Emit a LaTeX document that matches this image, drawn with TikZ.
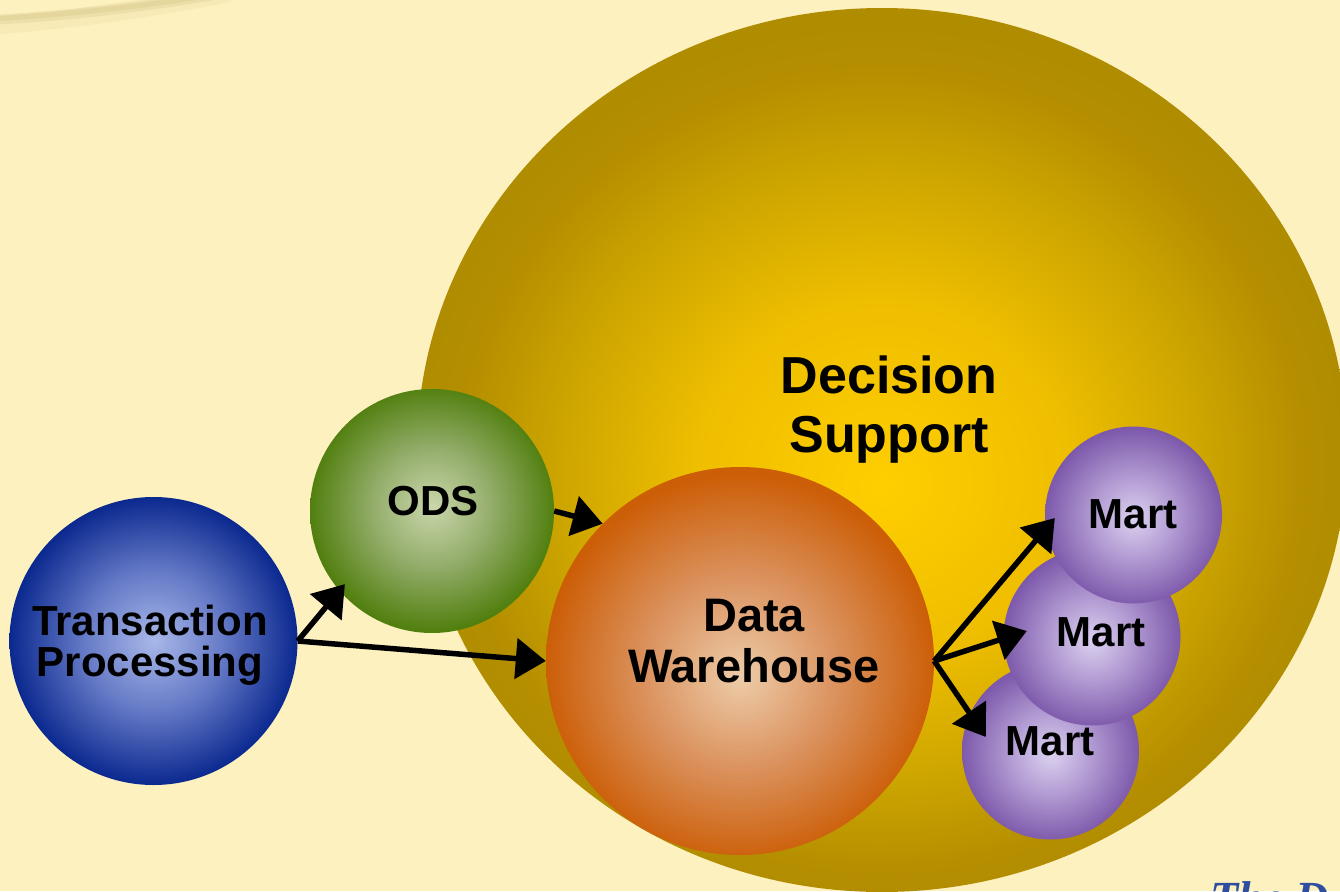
\documentclass[tikz,border=0pt]{standalone}
\usepackage{fontspec}
\setmainfont{Liberation Sans}
\newfontfamily\footserif{Liberation Serif}
\usetikzlibrary{arrows.meta,calc,shapes.geometric}

% colours
\definecolor{bgcream}{RGB}{253,241,192}
\definecolor{swooshtan}{RGB}{224,208,150}
\definecolor{footblue}{RGB}{48,78,160}

% radial shadings: the 25bp circle is the rim of the shape
\pgfdeclareradialshading{dsglow}{\pgfpoint{0bp}{-2bp}}{%
  rgb(0bp)=(1,0.81,0); rgb(10bp)=(0.935,0.745,0); rgb(17.5bp)=(0.80,0.645,0);
  rgb(22.5bp)=(0.71,0.56,0); rgb(25bp)=(0.69,0.55,0); rgb(50bp)=(0.69,0.55,0)}
\pgfdeclareradialshading{blueball}{\pgfpoint{0bp}{0bp}}{%
  rgb(0bp)=(0.66,0.72,0.91); rgb(12bp)=(0.40,0.48,0.78);
  rgb(25bp)=(0.04,0.16,0.56); rgb(50bp)=(0.04,0.16,0.56)}
\pgfdeclareradialshading{greenball}{\pgfpoint{0bp}{1bp}}{%
  rgb(0bp)=(0.79,0.84,0.67); rgb(12bp)=(0.58,0.68,0.42);
  rgb(25bp)=(0.32,0.50,0.06); rgb(50bp)=(0.32,0.50,0.06)}
\pgfdeclareradialshading{orangeball}{\pgfpoint{0bp}{-2bp}}{%
  rgb(0bp)=(0.93,0.80,0.66); rgb(12bp)=(0.86,0.58,0.38);
  rgb(25bp)=(0.80,0.37,0.03); rgb(50bp)=(0.80,0.37,0.03)}
\pgfdeclareradialshading{purpleball}{\pgfpoint{0bp}{-1bp}}{%
  rgb(0bp)=(0.86,0.82,0.94); rgb(12bp)=(0.69,0.60,0.82);
  rgb(25bp)=(0.49,0.35,0.67); rgb(50bp)=(0.49,0.35,0.67)}

\tikzset{
  ball/.style={circle, inner sep=0pt, draw=none},
  caption/.style={font=\bfseries\fontsize{42}{41}\selectfont, align=center, inner sep=0pt, text=black},
  arr/.style={line width=5.5pt, draw=black, -{Triangle[length=30pt,width=40pt]}},
  swoosh/.style={draw=swooshtan, line cap=round}
}

\begin{document}
\begin{tikzpicture}[x=1pt,y=-1pt]
  \useasboundingbox (0,0) rectangle (1340,891);
  \clip (0,0) rectangle (1340,891);
  \fill[bgcream] (0,0) rectangle (1340,891);

  % soft swoosh in the corner
  \draw[swoosh, line width=18pt, opacity=0.2] (-10,26) .. controls (80,19) and (150,8) .. (225,-6);
  \draw[swoosh, line width=10pt, opacity=0.4] (-10,20) .. controls (80,15) and (150,6) .. (220,-6);
  \draw[swoosh, line width=5pt, opacity=0.6] (-10,19) .. controls (80,14) and (150,5) .. (218,-6);

  % decision support area
  \node[ellipse, inner sep=0pt, minimum width=930pt, minimum height=884pt,
        shading=dsglow] (ds) at (882,450) {};
  \node[caption, font=\bfseries\fontsize{52}{58.4}\selectfont] (dsl) at (889,409.5) {Decision\\Support};

  % stores
  \node[ball, minimum size=288pt, shading=blueball] (tp) at (153.5,641) {};
  \node[ball, minimum size=244pt, shading=greenball] (ods) at (432,511) {};
  \node[ball, minimum size=388pt, shading=orangeball] (dw) at (740,661) {};
  \node[ball, minimum size=177pt, shading=purpleball] (m3) at (1050.5,751) {};
  \node[ball, minimum size=177pt, shading=purpleball] (m2) at (1092,637) {};
  \node[ball, minimum size=177pt, shading=purpleball] (m1) at (1133.5,515) {};

  % labels
  \node[caption] (tpl) at (150,645) {Transaction\\Processing};
  \node[caption] (odsl) at (433.5,501) {ODS};
  \node[caption, font=\bfseries\fontsize{47}{51.7}\selectfont] (dwl) at (754,641) {Data\\Warehouse};
  \node[caption] (m1l) at (1133,514) {Mart};
  \node[caption] (m2l) at (1101,632) {Mart};
  \node[caption] (m3l) at (1050,741) {Mart};

  % data flows
  \draw[arr] (tp.east) -- ([shift={(6.5,-5.4)}]ods.220);
  \draw[arr] (tp.east) -- (dw.west);
  \draw[arr] (ods.east) -- (dw.135);
  \draw[arr] (dw.east) -- ([shift={(10,3)}]m1.west);
  \draw[arr] (dw.east) -- ([shift={(23.5,-6)}]m2.west);
  \draw[arr] (dw.east) -- ([shift={(24,-14)}]m3.west);

  % footer title, running off the lower edge
  \node[anchor=base west, inner sep=0pt, text=footblue,
        font=\footserif\bfseries\itshape\fontsize{46}{46}\selectfont] (foot) at (1210,913.5) {The D};
\end{tikzpicture}
\end{document}
